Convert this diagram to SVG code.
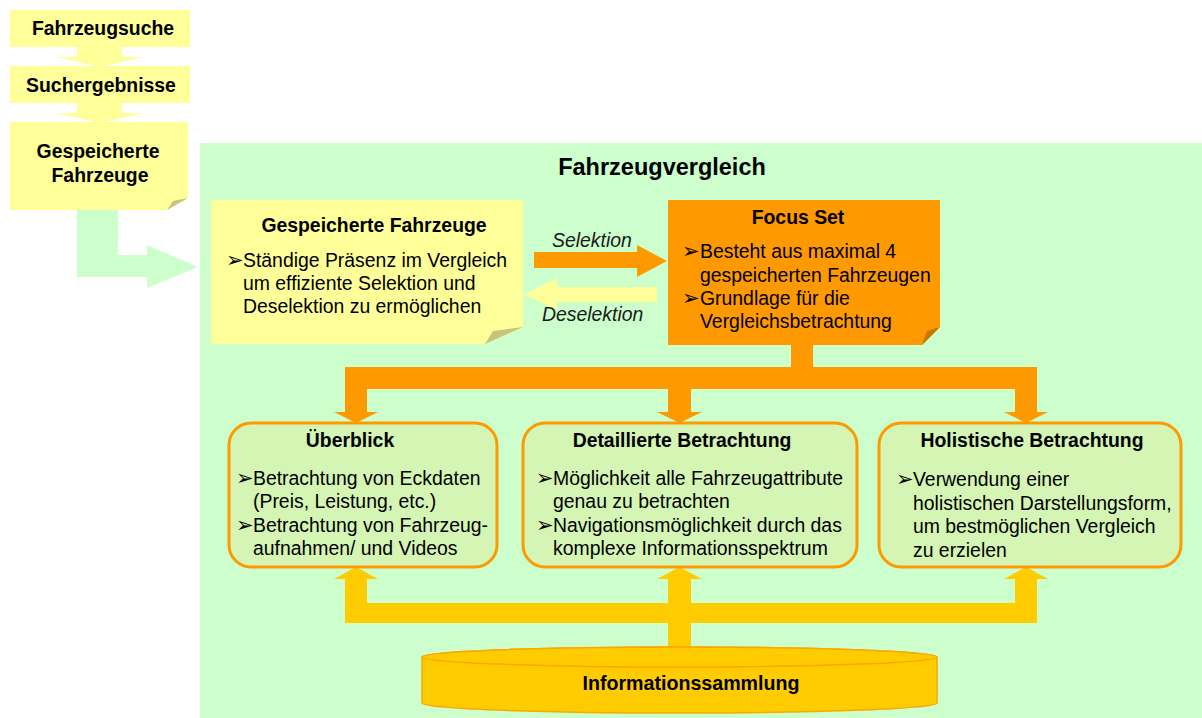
<svg xmlns="http://www.w3.org/2000/svg" width="1202" height="718" viewBox="0 0 1202 718">
<style>
.t{font-family:"Liberation Sans",Arial,sans-serif;font-size:19.4px;fill:#000}
.b{font-weight:bold}
.i{font-style:italic;fill:#1a1a1a}
.m{text-anchor:middle}
.bul{font-family:"DejaVu Sans",sans-serif;font-size:21px;fill:#000}
.note{fill:#FFFF99}
.fold{fill:#C9C27A}
.card{fill:#D4F5B3;stroke:#FF9900;stroke-width:3}
.org{fill:#FF9900}
.gold{fill:#FFCC00}
.grn{fill:#CCFFCC}
</style>
<rect width="1202" height="718" fill="#FFFFFF"/>
<g id="panel">
<rect x="200" y="143" width="1002" height="575" class="grn"/>
<text x="662" y="175" class="t b m" style="font-size:23.5px">Fahrzeugvergleich</text>
</g>
<g id="connectors">
<polygon class="note" points="77,47 122,47 122,57 143,57 100,67 57,57 77,57"/>
<polygon class="note" points="77,103 122,103 122,113 143,113 100,123 57,113 77,113"/>
<polygon class="grn" points="77,210 118,210 118,255 147,255 147,245 198,267 147,288 147,277 77,277"/>
<polygon class="org" points="534,252 637,252 637,245 667,261 637,277 637,268 534,268"/>
<polygon class="note" points="657,287 557,287 557,278 524,294.5 557,310 557,302 657,302"/>
<rect class="org" x="791" y="343" width="22" height="26"/>
<rect class="org" x="345" y="367" width="692" height="22"/>
<rect class="org" x="345" y="388" width="22" height="25"/>
<polygon class="org" points="334,412 378,412 356,423"/>
<rect class="org" x="668" y="388" width="23" height="25"/>
<polygon class="org" points="657,412 702,412 679.5,423"/>
<rect class="org" x="1015" y="388" width="22" height="25"/>
<polygon class="org" points="1004,412 1048,412 1026,423"/>
<rect class="gold" x="345" y="603" width="692" height="20"/>
<rect class="gold" x="345" y="578" width="22" height="26"/>
<polygon class="gold" points="334,579 378,579 356,567"/>
<rect class="gold" x="668" y="578" width="23" height="70"/>
<polygon class="gold" points="657,579 702,579 679.5,567"/>
<rect class="gold" x="1015" y="578" width="22" height="26"/>
<polygon class="gold" points="1004,579 1048,579 1026,567"/>
<text x="552" y="247" class="t i">Selektion</text>
<text x="542" y="321" class="t i">Deselektion</text>
</g>
<g id="node-fahrzeugsuche">
<rect x="10" y="10" width="180" height="37" class="note"/>
<text x="103" y="35" class="t b m">Fahrzeugsuche</text>
</g>
<g id="node-suchergebnisse">
<rect x="10" y="66" width="180" height="37" class="note"/>
<text x="101" y="92" class="t b m">Suchergebnisse</text>
</g>
<g id="node-gespeichert-top">
<polygon class="note" points="10,122 188,122 188,198 167,210 10,210"/>
<polygon class="fold" points="167,210 173,201 188,198"/>
<text x="98" y="158" class="t b m">Gespeicherte</text>
<text x="100" y="182" class="t b m">Fahrzeuge</text>
</g>
<g id="node-gespeichert">
<polygon class="note" points="211,200 523,200 523,327 485,344 211,344"/>
<polygon class="fold" points="485,344 493,331 523,327"/>
<text x="374" y="232" class="t b m">Gespeicherte Fahrzeuge</text>
<text x="226" y="267" class="bul">➢</text>
<text x="243" y="267" class="t">Ständige Präsenz im Vergleich</text>
<text x="243" y="290" class="t">um effiziente Selektion und</text>
<text x="243" y="313" class="t">Deselektion zu ermöglichen</text>
</g>
<g id="node-focus">
<polygon class="org" points="668,200 940,200 940,327 922,345 668,345"/>
<polygon points="922,345 927,331 940,327" fill="#C77700"/>
<text x="798" y="224" class="t b m">Focus Set</text>
<text x="682" y="258" class="bul">➢</text>
<text x="700" y="258" class="t">Besteht aus maximal 4</text>
<text x="700" y="282" class="t">gespeicherten Fahrzeugen</text>
<text x="682" y="305" class="bul">➢</text>
<text x="700" y="305" class="t">Grundlage für die</text>
<text x="700" y="328" class="t">Vergleichsbetrachtung</text>
</g>
<g id="node-ueberblick">
<rect x="229" y="423" width="268" height="144" rx="22" class="card"/>
<text x="350" y="447" class="t b m">Überblick</text>
<text x="236" y="485" class="bul">➢</text>
<text x="253" y="485" class="t">Betrachtung von Eckdaten</text>
<text x="253" y="508" class="t">(Preis, Leistung, etc.)</text>
<text x="236" y="532" class="bul">➢</text>
<text x="253" y="532" class="t">Betrachtung von Fahrzeug-</text>
<text x="253" y="555" class="t">aufnahmen/ und Videos</text>
</g>
<g id="node-detail">
<rect x="523" y="423" width="334" height="144" rx="22" class="card"/>
<text x="682" y="447" class="t b m">Detaillierte Betrachtung</text>
<text x="536" y="485" class="bul">➢</text>
<text x="553" y="485" class="t">Möglichkeit alle Fahrzeugattribute</text>
<text x="553" y="508" class="t">genau zu betrachten</text>
<text x="536" y="532" class="bul">➢</text>
<text x="553" y="532" class="t">Navigationsmöglichkeit durch das</text>
<text x="553" y="555" class="t">komplexe Informationsspektrum</text>
</g>
<g id="node-holistisch">
<rect x="879" y="423" width="302" height="144" rx="22" class="card"/>
<text x="1032" y="447" class="t b m">Holistische Betrachtung</text>
<text x="896" y="486" class="bul">➢</text>
<text x="913" y="486" class="t">Verwendung einer</text>
<text x="913" y="510" class="t">holistischen Darstellungsform,</text>
<text x="913" y="533" class="t">um bestmöglichen Vergleich</text>
<text x="913" y="557" class="t">zu erzielen</text>
</g>
<g id="node-info">
<path d="M422,657 L422,703 A257.5,10 0 0 0 937,703 L937,657 A257.5,10 0 0 0 422,657 Z" fill="#FFCC00" stroke="#F9A800" stroke-width="1.5"/>
<ellipse cx="679.5" cy="657" rx="257.5" ry="10" fill="#FFCC00" stroke="#F9A800" stroke-width="1.5"/>
<text x="691" y="690" class="t b m" style="font-size:21px" textLength="217" lengthAdjust="spacingAndGlyphs">Informationssammlung</text>
</g>
</svg>
